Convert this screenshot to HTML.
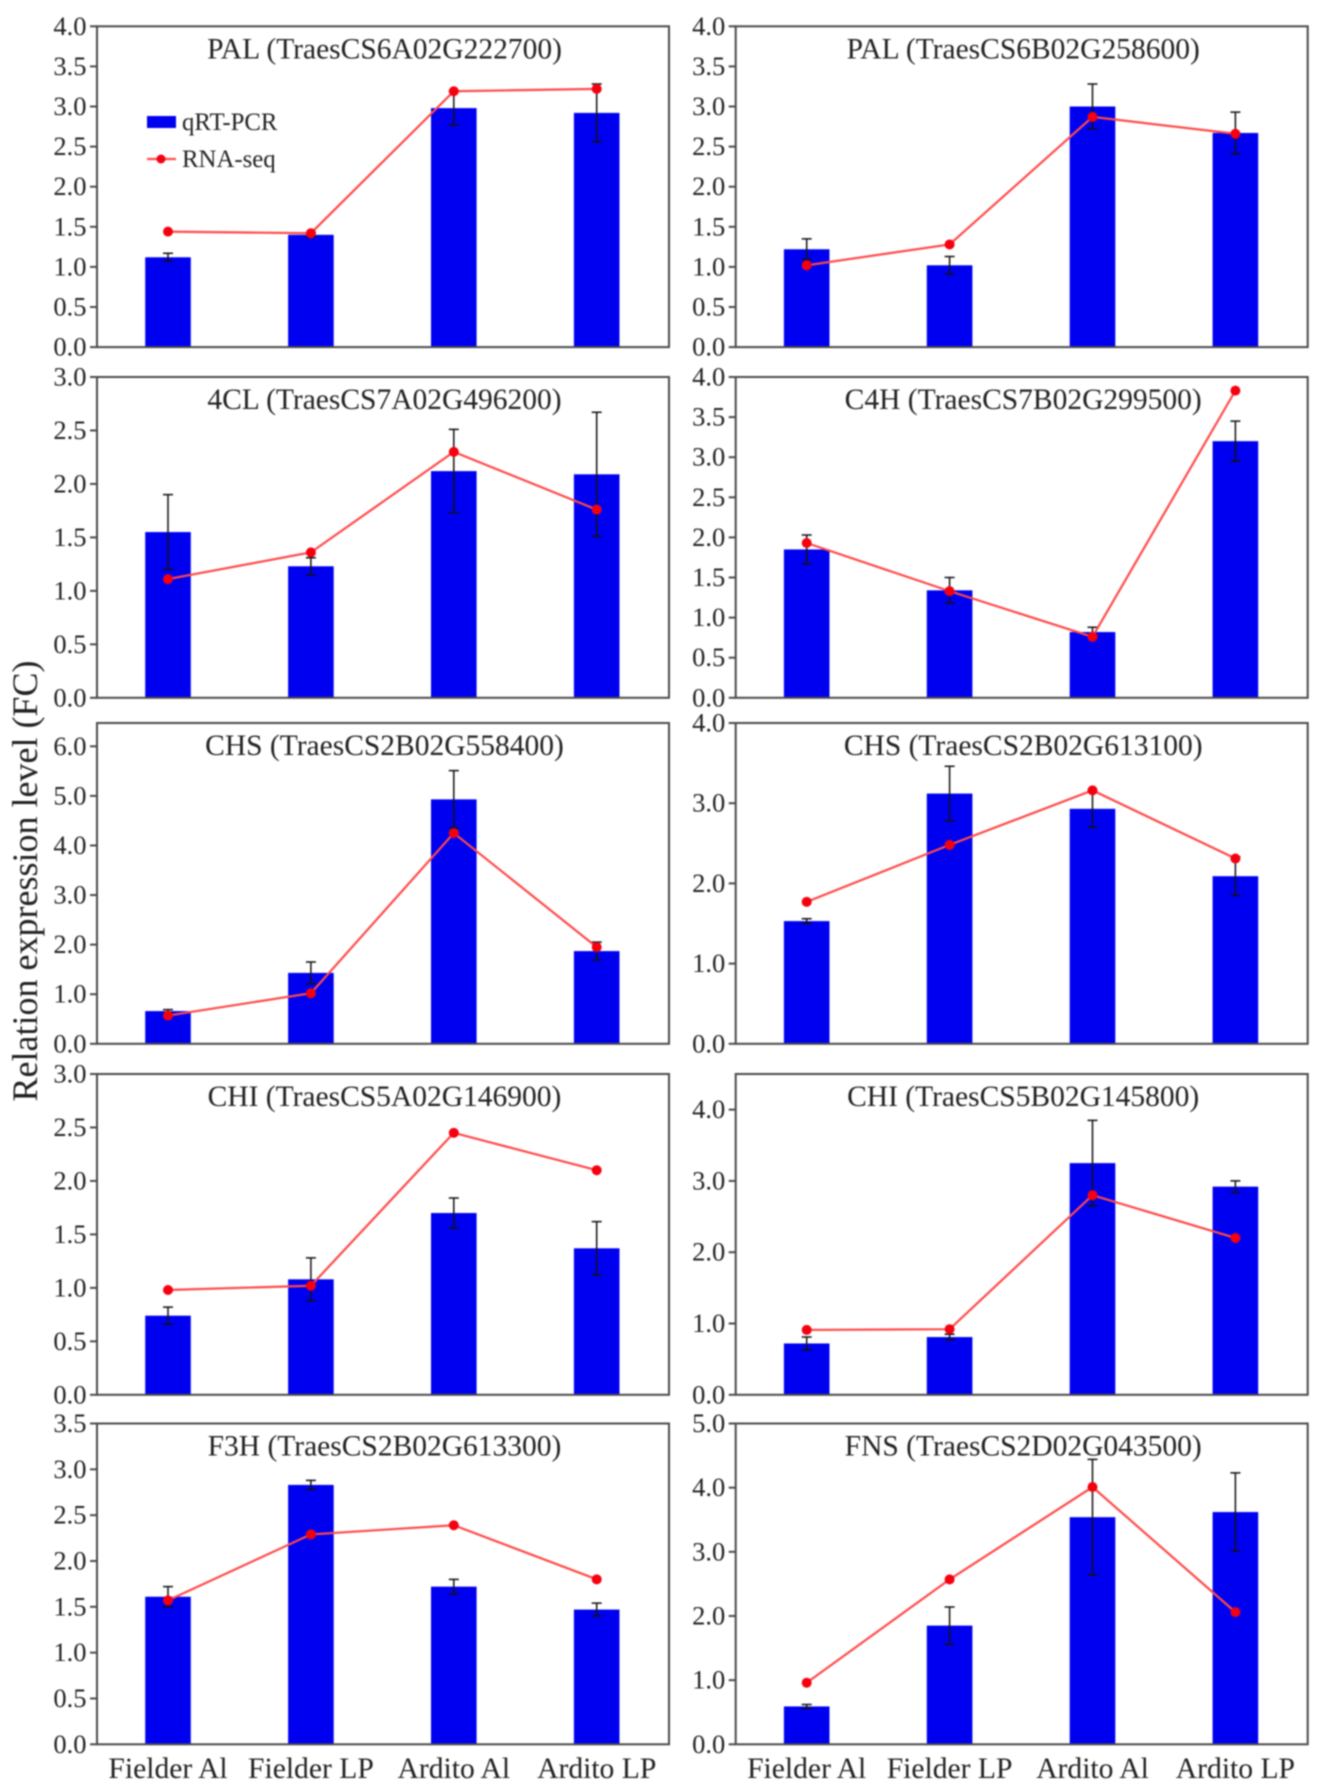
<!DOCTYPE html>
<html>
<head>
<meta charset="utf-8">
<title>Relation expression level charts</title>
<style>
html,body{margin:0;padding:0;background:#fff;width:1320px;height:1791px;overflow:hidden}
svg{display:block;filter:blur(0.7px)}
text{font-family:"Liberation Serif",serif;fill:#222}
</style>
</head>
<body>
<svg id="figure" width="1320" height="1791" viewBox="0 0 1320 1791" xmlns="http://www.w3.org/2000/svg">
  <text transform="translate(37,881) rotate(-90)" text-anchor="middle" font-size="36">Relation expression level (FC)</text>
</svg>
<script>
const categories = ["Fielder Al", "Fielder LP", "Ardito Al", "Ardito LP"];
const panelTitles = [
  "PAL (TraesCS6A02G222700)", "PAL (TraesCS6B02G258600)",
  "4CL (TraesCS7A02G496200)", "C4H (TraesCS7B02G299500)",
  "CHS (TraesCS2B02G558400)", "CHS (TraesCS2B02G613100)",
  "CHI (TraesCS5A02G146900)", "CHI (TraesCS5B02G145800)",
  "F3H (TraesCS2B02G613300)", "FNS (TraesCS2D02G043500)"
];
const axisMax = [4, 4, 3, 4, 6.47, 4, 3, 4.5, 3.5, 5];
const tickLabels = [
  ["0.0","0.5","1.0","1.5","2.0","2.5","3.0","3.5","4.0"],
  ["0.0","0.5","1.0","1.5","2.0","2.5","3.0","3.5","4.0"],
  ["0.0","0.5","1.0","1.5","2.0","2.5","3.0"],
  ["0.0","0.5","1.0","1.5","2.0","2.5","3.0","3.5","4.0"],
  ["0.0","1.0","2.0","3.0","4.0","5.0","6.0"],
  ["0.0","1.0","2.0","3.0","4.0"],
  ["0.0","0.5","1.0","1.5","2.0","2.5","3.0"],
  ["0.0","1.0","2.0","3.0","4.0"],
  ["0.0","0.5","1.0","1.5","2.0","2.5","3.0","3.5"],
  ["0.0","1.0","2.0","3.0","4.0","5.0"]
];
const qpcrValues = [
  [1.12, 1.40, 2.98, 2.92],
  [1.22, 1.02, 3.00, 2.67],
  [1.55, 1.23, 2.12, 2.09],
  [1.85, 1.34, 0.82, 3.20],
  [0.66, 1.43, 4.93, 1.87],
  [1.53, 3.12, 2.93, 2.09],
  [0.74, 1.08, 1.70, 1.37],
  [0.72, 0.81, 3.25, 2.92],
  [1.61, 2.83, 1.72, 1.47],
  [0.59, 1.85, 3.54, 3.62]
];
const qpcrErrors = [
  [0.05, 0.03, 0.21, 0.36],
  [0.13, 0.11, 0.28, 0.26],
  [0.35, 0.08, 0.39, 0.58],
  [0.18, 0.16, 0.06, 0.25],
  [0.03, 0.22, 0.58, 0.18],
  [0.03, 0.34, 0.23, 0.24],
  [0.08, 0.20, 0.14, 0.25],
  [0.09, 0.04, 0.60, 0.08],
  [0.11, 0.05, 0.08, 0.07],
  [0.03, 0.29, 0.90, 0.61]
];
const rnaSeqValues = [
  [1.44, 1.42, 3.19, 3.22],
  [1.02, 1.28, 2.87, 2.66],
  [1.11, 1.36, 2.30, 1.76],
  [1.93, 1.33, 0.76, 3.83],
  [0.57, 1.02, 4.25, 1.95],
  [1.77, 2.48, 3.16, 2.31],
  [0.98, 1.02, 2.45, 2.10],
  [0.91, 0.92, 2.80, 2.20],
  [1.57, 2.29, 2.39, 1.80],
  [0.96, 2.57, 4.01, 2.06]
];
const legendLabels = ["qRT-PCR", "RNA-seq"];

const svg = document.getElementById('figure');
const NS = 'http://www.w3.org/2000/svg';

function make(tag, attrs, parent, content) {
  const node = document.createElementNS(NS, tag);
  for (const k in attrs) node.setAttribute(k, attrs[k]);
  if (content !== undefined) node.textContent = content;
  parent.appendChild(node);
  return node;
}
function panelBox(index) {
  const col = index % 2;
  const row = Math.floor(index / 2);
  const tops = [26.3, 377, 723, 1074, 1423.5];
  const left = col === 0 ? 97 : 735.7;
  return { left: left, right: left + 572, top: tops[row], bottom: tops[row] + 320.8 };
}
function xScale(box, catIndex) {
  return box.left + 71 + catIndex * 142.9;
}
function yScale(box, max, value) {
  return box.bottom - (value / max) * (box.bottom - box.top);
}

function drawPanel(i) {
  const box = panelBox(i);
  const max = axisMax[i];
  const group = make('g', {}, svg);
  
  

  qpcrValues[i].forEach(function (v, c) {
    const x = xScale(box, c);
    const y = yScale(box, max, v);
    const bar = make('rect', { x: x - 22.8, y: y, width: 45.6, height: box.bottom - y, fill: '#0000f0' }, group);
    
    
  });

  qpcrValues[i].forEach(function (v, c) {
    const x = xScale(box, c);
    const hi = yScale(box, max, v + qpcrErrors[i][c]);
    const lo = yScale(box, max, v - qpcrErrors[i][c]);
    const err = make('path', {
      d: 'M' + x + ' ' + hi + 'V' + lo + 'M' + (x - 5) + ' ' + hi + 'H' + (x + 5) + 'M' + (x - 5) + ' ' + lo + 'H' + (x + 5),
      stroke: '#111', 'stroke-width': 1.5, fill: 'none'
    }, group);
    
    
  });

  const frame = make('rect', { x: box.left, y: box.top, width: box.right - box.left, height: box.bottom - box.top, fill: 'none', stroke: '#4a4a4a', 'stroke-width': 2 }, group);
  
  

  const labels = tickLabels[i];
  labels.forEach(function (label) {
    const value = parseFloat(label);
    const y = yScale(box, max, value);
    const tick = make('line', { x1: box.left - 7, x2: box.left, y1: y, y2: y, stroke: '#4a4a4a', 'stroke-width': 2 }, group);
    
    
    const text = make('text', { x: box.left - 10.5, y: y + 8.5, 'text-anchor': 'end', 'font-size': 26.5 }, group, label);
    
    
  });

  const points = rnaSeqValues[i].map(function (v, c) {
    return xScale(box, c) + ',' + yScale(box, max, v);
  }).join(' ');
  const line = make('polyline', { points: points, fill: 'none', stroke: '#ff4a4a', 'stroke-width': 2.2 }, group);
  
  
  rnaSeqValues[i].forEach(function (v, c) {
    const dot = make('circle', { cx: xScale(box, c), cy: yScale(box, max, v), r: 5, fill: '#f5000f' }, group);
    
    
  });

  const title = make('text', { x: (box.left + box.right) / 2 + 1.5, y: box.top + 32, 'text-anchor': 'middle', 'font-size': 29.5 }, group, panelTitles[i]);
  
  

  if (i >= 8) {
    categories.forEach(function (name, c) {
      const cat = make('text', { x: xScale(box, c), y: box.bottom + 33.5, 'text-anchor': 'middle', 'font-size': 29.6 }, group, name);
      
      
    });
  }
}

panelTitles.forEach(function (_, i) { drawPanel(i); });

const legend = make('g', {}, svg);


const legendSwatch = make('rect', { x: 147, y: 116, width: 29, height: 12, fill: '#0000f0' }, legend);


const legendText1 = make('text', { x: 182, y: 130, 'font-size': 24.8 }, legend, legendLabels[0]);


const legendLine = make('line', { x1: 147, x2: 176, y1: 159, y2: 159, stroke: '#ff4a4a', 'stroke-width': 2.2 }, legend);


const legendDot = make('circle', { cx: 161, cy: 159, r: 4.5, fill: '#f5000f' }, legend);


const legendText2 = make('text', { x: 182, y: 167, 'font-size': 24.8 }, legend, legendLabels[1]);


</script>
</body>
</html>
